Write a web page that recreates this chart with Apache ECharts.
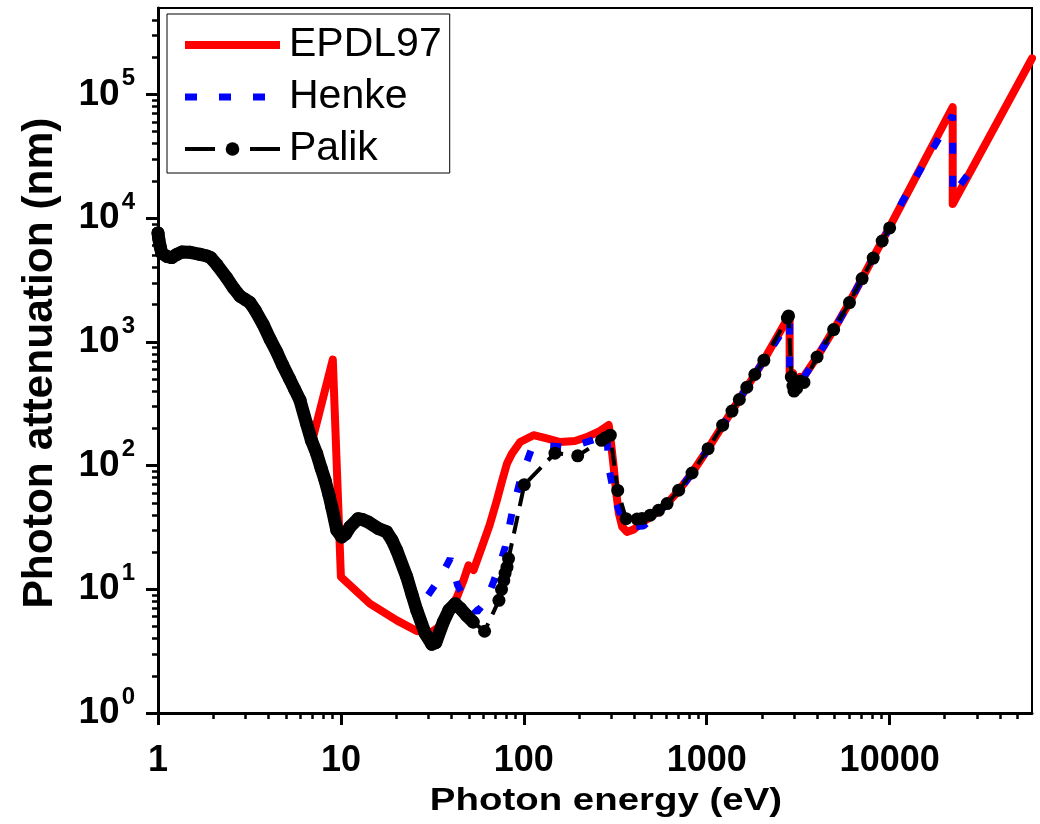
<!DOCTYPE html>
<html>
<head>
<meta charset="utf-8">
<script src="https://cdn.jsdelivr.net/npm/echarts@6/dist/echarts.min.js"></script>
<style>html,body{margin:0;padding:0;background:#fff;}#c{width:1040px;height:824px;}</style>
</head>
<body>
<div id="c"></div>
<script>
// ---- data (photon energy in eV, attenuation length in nm) ----
const epdlE = [6.9, 9.03, 10.0, 14.4, 20.2, 26.0, 30.8, 34, 38, 43.1, 47, 49.8, 53.1, 59, 65, 71.2, 76, 80.9, 86.1, 95.5, 113, 135, 158, 190, 221, 260, 291, 300, 310, 320, 331, 345, 366, 400, 434, 500, 600, 700, 830, 1000, 1220, 1500, 2050, 2838, 2840, 2966, 2968, 3223, 3225, 4000, 5000, 6000, 8000, 10000, 15000, 22110, 22120, 60000];
const epdlA = [150, 720, 12.6, 7.66, 5.61, 4.6, 4.45, 4.9, 6.2, 8.67, 12, 15.6, 14.3, 22, 33, 52.4, 75, 104, 125, 155, 176, 165, 155, 158, 170, 190, 213, 150, 97, 60, 41, 32, 29.1, 30.5, 34, 39, 48.5, 62.5, 87, 132, 210, 340, 710, 1650, 510, 560, 440, 520, 470, 750, 1290, 2060, 4600, 8500, 26600, 79000, 13000, 196000];

const henkeE = [30, 35, 39.6, 41.5, 43.4, 48, 55.4, 62, 68.3, 74, 79.1, 86, 95.5, 111, 130, 168, 200, 251, 285, 290, 316, 350, 380, 450, 500, 600, 700, 830, 1000, 1220, 1500, 2050, 2838, 2840, 2966, 2968, 3224, 3226, 4000, 5000, 6000, 8000, 10000, 11700, 15000, 22110, 22120, 30000];
const henkeA = [9.0, 12.5, 17.7, 14, 10.8, 8.2, 6.55, 8, 11.5, 16, 22, 40.9, 76, 141, 145, 141, 148, 165, 183, 100, 52.4, 35, 32, 32.5, 37, 48, 62, 87, 132, 210, 340, 710, 1500, 480, 540, 430, 500, 460, 750, 1280, 2060, 4600, 8400, 13500, 26000, 68000, 15300, 28500];

const palikE = [1.0, 1.01, 1.03, 1.05, 1.12, 1.19, 1.27, 1.35, 1.5, 1.7, 1.85, 1.94, 2.1, 2.37, 2.6, 2.81, 3.0, 3.18, 3.4, 3.77, 4.1, 4.46, 4.8, 5.23, 5.6, 5.97, 6.49, 6.9, 7.37, 7.8, 8.19, 8.6, 8.92, 9.5, 10.1, 10.6, 11.2, 12.4, 13.2, 14.1, 16.0, 17.8, 19.0, 20.2, 22.9, 24.5, 26.0, 28.9, 31.4, 33, 36.3, 39, 42.2, 45, 48.6, 52.8,
  61.0, 73.1, 75.5, 77.7, 79, 80.9, 82.5, 100.6, 148, 197, 266, 280, 297, 326, 362, 416, 443, 491, 545, 607, 702, 831, 1017, 1222, 1374, 1507, 1656, 1832, 2052, 2760, 2800, 2900, 2960, 3000, 3100, 3250, 3400, 4010, 4940, 6030, 7070, 8130, 9100, 10000];
const palikA = [7600, 6800, 5800, 5200, 4900, 4800, 5100, 5330, 5300, 5100, 4950, 4800, 4200, 3310, 2700, 2340, 2200, 2080, 1800, 1370, 1050, 827, 650, 505, 410, 338, 218, 160, 125, 95, 76, 58, 46, 30, 26.5, 28, 31.9, 37.2, 36.5, 35, 31, 29.1, 25, 20.6, 12.6, 9, 6.76, 4.39, 3.6, 3.7, 5.44, 6.8, 7.65, 7, 6.16, 5.44,
  4.58, 8.14, 10, 11.8, 13.5, 15.1, 17.7, 70.1, 126, 120, 160, 168, 176, 63, 37.2, 37, 37.3, 39.7, 43.5, 49.3, 63.2, 87.1, 137, 212, 276, 342, 430, 545, 710, 1560, 1620, 520, 440, 400, 420, 480, 470, 755, 1257, 2080, 3250, 4760, 6540, 8340];

const xTicks = [1, 10, 100, 1000, 10000];
const xTickLabels = ['1', '10', '100', '1000', '10000'];
const xMinorTicks = [2,3,4,5,6,7,8,9, 20,30,40,50,60,70,80,90, 200,300,400,500,600,700,800,900, 2000,3000,4000,5000,6000,7000,8000,9000, 20000,30000,40000,50000];
const yTicks = [1, 10, 100, 1000, 10000, 100000];
const yTickExponents = ['0', '1', '2', '3', '4', '5'];
const yMinorTicks = [2,3,4,5,6,7,8,9, 20,30,40,50,60,70,80,90, 200,300,400,500,600,700,800,900, 2000,3000,4000,5000,6000,7000,8000,9000, 20000,30000,40000,50000,60000,70000,80000,90000, 200000,300000,400000];

const pairs = (xs, ys) => xs.map((x, i) => [x, ys[i]]);
const palikAll = pairs(palikE, palikA);
const palikDense = palikAll.filter(p => p[0] <= 53);

const FONT = '"Liberation Sans", Arial, sans-serif';
const chart = echarts.init(document.getElementById('c'), null, {renderer: 'canvas'});

const baseX = {type: 'log', logBase: 10, min: 1, max: 60000, gridIndex: 0};
const baseY = {type: 'log', logBase: 10, min: 1, max: 500000, gridIndex: 0};

chart.setOption({
  animation: false,
  backgroundColor: '#fff',
  grid: {left: 158, right: 8, top: 8, bottom: 111, show: true, borderColor: '#000', borderWidth: 2, backgroundColor: 'transparent'},
  xAxis: [
    Object.assign({}, baseX, {
      position: 'bottom',
      axisLine: {show: true, lineStyle: {color: '#000', width: 3}},
      axisTick: {show: true, inside: false, length: 12, lineStyle: {color: '#000', width: 3}, customValues: xTicks},
      axisLabel: {show: true, margin: 30, color: '#000', fontFamily: FONT, fontWeight: 'bold', fontSize: 36,
        customValues: xTicks,
        formatter: v => { const i = xTicks.findIndex(t => Math.abs(t - v) / t < 1e-6); return i >= 0 ? xTickLabels[i] : ''; }},
      splitLine: {show: false}
    }),
    Object.assign({}, baseX, {
      position: 'bottom',
      axisLine: {show: false},
      axisTick: {show: true, inside: false, length: 6, lineStyle: {color: '#000', width: 2.5}, customValues: xMinorTicks},
      axisLabel: {show: false},
      splitLine: {show: false}
    })
  ],
  yAxis: [
    Object.assign({}, baseY, {
      position: 'left',
      axisLine: {show: true, lineStyle: {color: '#000', width: 3}},
      axisTick: {show: true, inside: false, length: 12, lineStyle: {color: '#000', width: 3}, customValues: yTicks},
      axisLabel: {show: true, margin: 23, color: '#000', fontFamily: FONT, fontWeight: 'bold',
        customValues: yTicks,
        formatter: v => { const i = yTicks.findIndex(t => Math.abs(t - v) / t < 1e-6); return i >= 0 ? '{b|10}{s|' + yTickExponents[i] + '}' : ''; },
        rich: {
          b: {fontFamily: FONT, fontWeight: 'bold', fontSize: 37, lineHeight: 56, color: '#000', verticalAlign: 'middle'},
          s: {fontFamily: FONT, fontWeight: 'bold', fontSize: 24, lineHeight: 24, color: '#000', verticalAlign: 'top', padding: [0, 0, 0, 2]}
        }},
      splitLine: {show: false}
    }),
    Object.assign({}, baseY, {
      position: 'left',
      axisLine: {show: false},
      axisTick: {show: true, inside: false, length: 6, lineStyle: {color: '#000', width: 2.5}, customValues: yMinorTicks},
      axisLabel: {show: false},
      splitLine: {show: false}
    })
  ],
  legend: {
    orient: 'vertical', left: 167, top: 14,
    padding: [10, 8, 3, 14], itemGap: 10, itemWidth: 95, itemHeight: 17,
    backgroundColor: '#fff', borderColor: '#000', borderWidth: 1, borderRadius: 0,
    textStyle: {fontFamily: FONT, fontSize: 41, color: '#000', lineHeight: 42, padding: [0, 0, 0, 4]},
    data: [
      {name: 'EPDL97', lineStyle: {color: '#ff0000', width: 8, cap: 'butt', type: 'solid'}, itemStyle: {opacity: 0}},
      {name: 'Henke', lineStyle: {color: '#0000ff', width: 7, cap: 'butt', type: [12, 22]}, itemStyle: {opacity: 0}},
      {name: 'Palik', lineStyle: {color: '#000', width: 4, cap: 'butt', type: [30, 35]}, itemStyle: {color: '#000'}}
    ]
  },
  graphic: [
    {type: 'text', x: 606, y: 801, scaleX: 1.22, style: {text: 'Photon energy (eV)', fontFamily: FONT, fontWeight: 'bold', fontSize: 31.5, fill: '#000', textAlign: 'center', textVerticalAlign: 'middle'}},
    {type: 'text', x: 40, y: 363, rotation: Math.PI / 2, style: {text: 'Photon attenuation (nm)', fontFamily: FONT, fontWeight: 'bold', fontSize: 42.5, fill: '#000', textAlign: 'center', textVerticalAlign: 'middle'}}
  ],
  series: [
    {name: 'EPDL97', type: 'line', xAxisIndex: 0, yAxisIndex: 0, data: pairs(epdlE, epdlA), symbol: 'none', z: 2,
      lineStyle: {color: '#ff0000', width: 8, cap: 'round', join: 'round'}, itemStyle: {color: '#ff0000'}},
    {name: 'Henke', type: 'line', xAxisIndex: 0, yAxisIndex: 0, data: pairs(henkeE, henkeA), symbol: 'none', z: 3,
      lineStyle: {color: '#0000ff', width: 7, type: [11, 22], cap: 'butt'}, itemStyle: {color: '#0000ff'}},
    {name: 'PalikBand', type: 'line', xAxisIndex: 0, yAxisIndex: 0, data: palikDense, symbol: 'none', z: 4,
      lineStyle: {color: '#000', width: 13, cap: 'round', join: 'round'}, itemStyle: {color: '#000'}},
    {name: 'Palik', type: 'line', xAxisIndex: 0, yAxisIndex: 0, data: palikAll, symbol: 'circle', symbolSize: 13, showAllSymbol: true, z: 5,
      lineStyle: {color: '#000', width: 4, type: [18, 10]}, itemStyle: {color: '#000'}}
  ]
});
</script>
</body>
</html>
